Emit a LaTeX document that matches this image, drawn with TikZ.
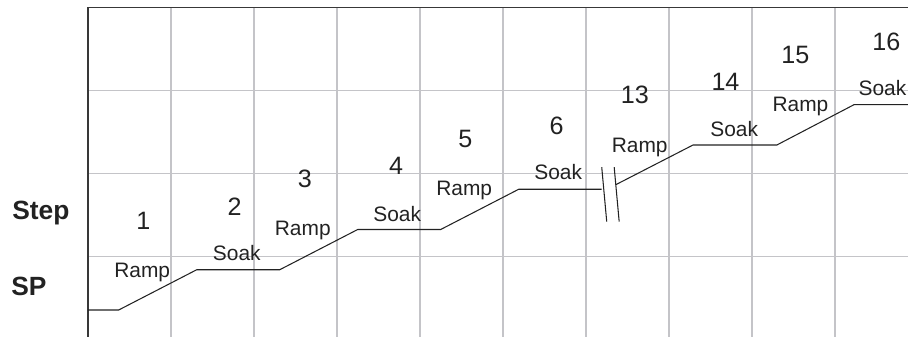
\documentclass[tikz,border=0pt]{standalone}
\usepackage{fontspec}
\setmainfont{Liberation Sans}
\usetikzlibrary{positioning}
\definecolor{gridgray}{HTML}{C4C4C8}
\definecolor{inkgray}{HTML}{222222}
\tikzset{
	gridline/.style={
			draw=gridgray,
			line width=0.85pt
		},
	frameline/.style={
			draw=inkgray!90,
			line width=0.9pt
		},
	profile/.style={
			draw=inkgray,
			line width=0.6pt
		},
	stepnum/.style={
			anchor=base,
			inner sep=0pt,
			text=inkgray,
			font=\fontsize{14.3}{14}\selectfont
		},
	phase/.style={
			anchor=base,
			inner sep=0pt,
			text=inkgray,
			font=\fontsize{11.9}{12}\selectfont
		},
	axislabel/.style={
			anchor=base west,
			inner sep=0pt,
			text=inkgray,
			font=\bfseries\fontsize{15}{15}\selectfont
		}
}

\begin{document}
\begin{tikzpicture}[x=1.66cm, y=1.66cm]
\useasboundingbox (-1.060,0.090) rectangle (9.880,-3.970);

% grid
\foreach \gx in {1,...,9}
	\draw[gridline] (\gx,0) -- (\gx,-3.97);
\foreach \gy in {-1,-2,-3}
	\draw[gridline] (0,\gy) -- (9.88,\gy);
\draw[frameline] (0,-3.97) -- (0,0) -- (9.88,0);

% set point profile
\draw[profile] (0,-3.645) -- (0.37,-3.645) -- (1.31,-3.16) -- (2.31,-3.16)
	-- (3.25,-2.675) -- (4.25,-2.675) -- (5.19,-2.19) -- (6.19,-2.19);
\draw[profile] (6.36,-2.135) -- (7.29,-1.657) -- (8.30,-1.657)
	-- (9.23,-1.171) -- (9.88,-1.171);

% break marks
\draw[profile] (6.19,-1.925) -- (6.25,-2.58);
\draw[profile] (6.34,-1.925) -- (6.40,-2.58);

\node[axislabel] (step) at (-0.916,-2.552) {Step};
\node[axislabel] (sp) at (-0.928,-3.476) {SP};

\node[stepnum] (s1) at (0.666,-2.672) {1};
\node[phase] (p1) at (0.653,-3.251) {Ramp};
\node[stepnum] (s2) at (1.767,-2.512) {2};
\node[phase] (p2) at (1.793,-3.051) {Soak};
\node[stepnum] (s3) at (2.612,-2.166) {3};
\node[phase] (p3) at (2.588,-2.749) {Ramp};
\node[stepnum] (s4) at (3.711,-2.018) {4};
\node[phase] (p4) at (3.725,-2.581) {Soak};
\node[stepnum] (s5) at (4.548,-1.684) {5};
\node[phase] (p5) at (4.533,-2.271) {Ramp};
\node[stepnum] (s6) at (5.647,-1.536) {6};
\node[phase] (p6) at (5.666,-2.078) {Soak};
\node[stepnum] (s13) at (6.590,-1.154) {13};
\node[phase] (p13) at (6.647,-1.745) {Ramp};
\node[stepnum] (s14) at (7.681,-1.002) {14};
\node[phase] (p14) at (7.786,-1.557) {Soak};
\node[stepnum] (s15) at (8.524,-0.681) {15};
\node[phase] (p15) at (8.584,-1.255) {Ramp};
\node[stepnum] (s16) at (9.618,-0.524) {16};
\node[phase] (p16) at (9.572,-1.066) {Soak};
\end{tikzpicture}
\end{document}
